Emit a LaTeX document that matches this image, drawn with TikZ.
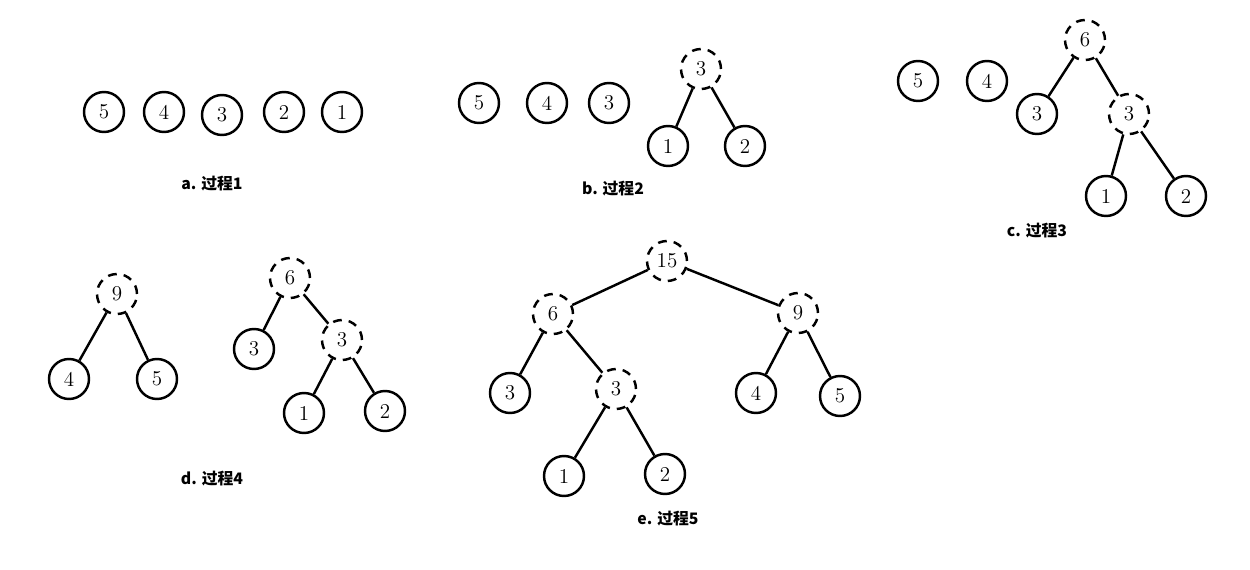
\documentclass[tikz,border=0pt]{standalone}
\usepackage{fontspec}
\newfontfamily\cjk{Noto Sans CJK SC}
\usepackage{tikz}
\usetikzlibrary{positioning}

\begin{document}
\begin{tikzpicture}[
    x=0.02cm, y=-0.02cm,
    leaf/.style={circle, draw, line width=1.4pt, minimum size=0.8cm,
                 inner sep=0pt, font=\fontsize{12}{12}\selectfont},
    merged/.style={leaf, dash pattern=on 5pt off 4pt},
    edge/.style={line width=1.4pt},
    caption/.style={font=\cjk\bfseries\fontsize{9}{9}\selectfont},
  ]
    \useasboundingbox (0,0) rectangle (1250,570);

    % a. 过程1
    \node[leaf] (a5) at (104,112) {5};
    \node[leaf] (a4) at (164,112) {4};
    \node[leaf] (a3) at (222,115) {3};
    \node[leaf] (a2) at (284,112) {2};
    \node[leaf] (a1) at (342,112) {1};
    \node[caption] (la) at (212,184) {a. 过程1};

    % b. 过程2
    \node[leaf] (b5) at (479,103) {5};
    \node[leaf] (b4) at (547,103) {4};
    \node[leaf] (b3) at (609,103) {3};
    \node[merged] (b3m) at (701,69) {3};
    \node[leaf] (b1) at (668,146) {1};
    \node[leaf] (b2) at (745,146) {2};
    \node[caption] (lb) at (613,189) {b. 过程2};
    \draw[edge] (b3m) -- (b1);
    \draw[edge] (b3m) -- (b2);

    % c. 过程3
    \node[leaf] (c5) at (918,81) {5};
    \node[leaf] (c4) at (987,81) {4};
    \node[merged] (c6) at (1085,40) {6};
    \node[leaf] (c3) at (1037,114) {3};
    \node[merged] (c3m) at (1129,114) {3};
    \node[leaf] (c1) at (1106,196) {1};
    \node[leaf] (c2) at (1186,196) {2};
    \node[caption] (lc) at (1037,231) {c. 过程3};
    \draw[edge] (c6) -- (c3);
    \draw[edge] (c6) -- (c3m);
    \draw[edge] (c3m) -- (c1);
    \draw[edge] (c3m) -- (c2);

    % d. 过程4
    \node[merged] (d9) at (117,294) {9};
    \node[leaf] (d4) at (69,379) {4};
    \node[leaf] (d5) at (157,379) {5};
    \node[merged] (d6) at (290,278) {6};
    \node[leaf] (d3) at (254,349) {3};
    \node[merged] (d3m) at (342,340) {3};
    \node[leaf] (d1) at (304,413) {1};
    \node[leaf] (d2) at (385,411) {2};
    \node[caption] (ld) at (212,479) {d. 过程4};
    \draw[edge] (d9) -- (d4);
    \draw[edge] (d9) -- (d5);
    \draw[edge] (d6) -- (d3);
    \draw[edge] (d6) -- (d3m);
    \draw[edge] (d3m) -- (d1);
    \draw[edge] (d3m) -- (d2);

    % e. 过程5
    \node[merged] (e15) at (667,261) {15};
    \node[merged] (e6) at (553,314) {6};
    \node[merged] (e9) at (798,313) {9};
    \node[leaf] (e3) at (510,393) {3};
    \node[merged] (e3m) at (616,389) {3};
    \node[leaf] (e4) at (756,393) {4};
    \node[leaf] (e5) at (840,396) {5};
    \node[leaf] (e1) at (564,476) {1};
    \node[leaf] (e2) at (665,474) {2};
    \node[caption] (le) at (668,519) {e. 过程5};
    \draw[edge] (e15) -- (e6);
    \draw[edge] (e15) -- (e9);
    \draw[edge] (e6) -- (e3);
    \draw[edge] (e6) -- (e3m);
    \draw[edge] (e9) -- (e4);
    \draw[edge] (e9) -- (e5);
    \draw[edge] (e3m) -- (e1);
    \draw[edge] (e3m) -- (e2);
  \end{tikzpicture}
\end{document}
